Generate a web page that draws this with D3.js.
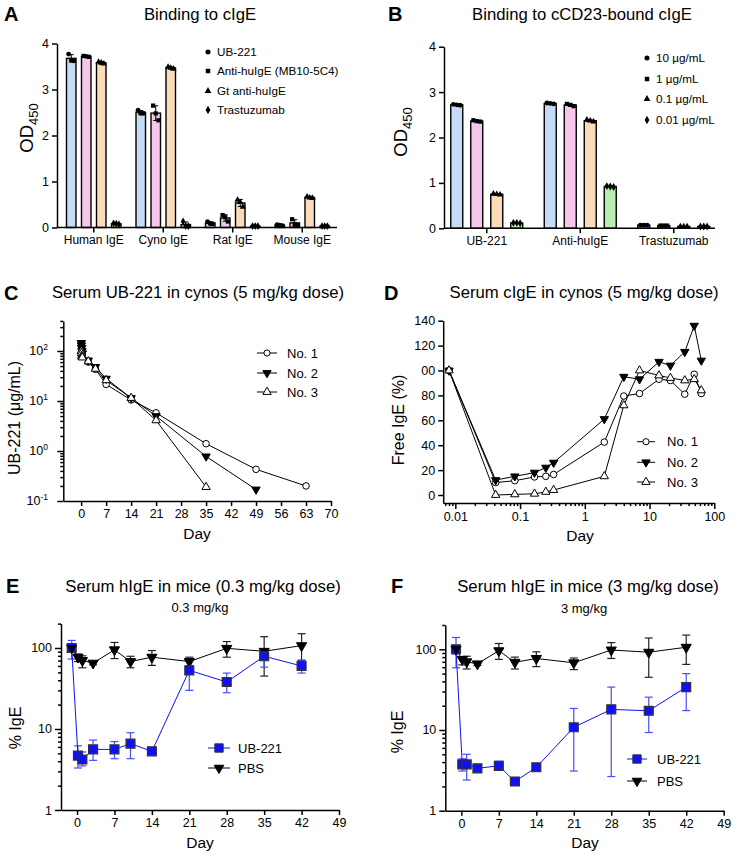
<!DOCTYPE html>
<html>
<head>
<meta charset="utf-8">
<script src="https://cdn.jsdelivr.net/npm/d3@7"></script>
<style>
  body { margin: 0; background: #fff; }
  svg { font-family: "Liberation Sans", Arial, sans-serif; }
</style>
</head>
<body>
<svg id="fig" width="745" height="856"></svg>
<script>
// ---------------- data ----------------
// A: binding to cIgE, three replicates per bar
const aGroups = ['Human IgE', 'Cyno IgE', 'Rat IgE', 'Mouse IgE']
const aSeries = ['UB-221', 'Anti-huIgE (MB10-5C4)', 'Gt anti-huIgE', 'Trastuzumab']
const aUb221 = [[3.77, 3.64, 3.62], [2.55, 2.48, 2.48], [0.13, 0.08, 0.08], [0.06, 0.05, 0.04]]
const aAntiHu = [[3.73, 3.72, 3.71], [2.65, 2.48, 2.33], [0.27, 0.22, 0.13], [0.18, 0.07, 0.05]]
const aGtAnti = [[3.60, 3.58, 3.56], [3.49, 3.47, 3.45], [0.60, 0.55, 0.45], [0.67, 0.65, 0.64]]
const aTrast = [[0.09, 0.08, 0.07], [0.13, 0.03, 0.03], [0.03, 0.03, 0.03], [0.03, 0.03, 0.03]]

// B: binding to cCD23-bound cIgE
const bGroups = ['UB-221', 'Anti-huIgE', 'Trastuzumab']
const bSeries = ['10 µg/mL', '1 µg/mL', '0.1 µg/mL', '0.01 µg/mL']
const b10 = [[2.73, 2.72, 2.71], [2.76, 2.75, 2.74], [0.07, 0.07, 0.07]]
const b1 = [[2.38, 2.36, 2.35], [2.74, 2.72, 2.69], [0.06, 0.06, 0.06]]
const b01 = [[0.76, 0.75, 0.74], [2.39, 2.37, 2.35], [0.04, 0.04, 0.04]]
const b001 = [[0.12, 0.12, 0.11], [0.93, 0.92, 0.91], [0.04, 0.04, 0.04]]

const barTicks = [0, 1, 2, 3, 4]

// C: serum UB-221 (µg/mL) in cynos
const cDays = [0.042, 0.083, 0.167, 0.25, 0.33, 2, 4, 7, 14, 21, 35, 49, 63]
const cNo1 = [125, 110, 100, 92, 85, 60, 43, 21.5, 10.5, 5.8, 1.4, 0.43, 0.2]
const cNo2 = [145, 130, 115, 100, 90, 65, 48, 28, 11.5, 5, 0.78, 0.17]
const cNo3 = [100, 90, 80, 76, 74, 62, 44, 26, 11.5, 4.1, 0.19]
const cXTicks = [0, 7, 14, 21, 28, 35, 42, 49, 56, 63, 70]
const cYMajor = [0.1, 1, 10, 100]
const cYExp = ['-1', '0', '1', '2']

// D: free cIgE (%) in cynos
const dDays = [0.008, 0.042, 0.083, 0.167, 0.25, 0.33, 2, 4, 7, 14, 21, 35, 49, 63]
const dNo1 = [100, 10, 11.5, 14.5, 15, 16.5, 42.5, 79.5, 81.5, 93, 92, 81, 97, 81.5]
const dNo2 = [100, 12, 15, 18, 22, 26, 61, 95, 93, 107, 104, 115, 136, 108]
const dNo3 = [100, 0, 0.5, 1, 2.5, 4, 15, 72, 100, 96, 94, 92, 93, 84]
const dXMajor = [0.01, 0.1, 1, 10, 100]
const dXLabels = ['0.01', '0.1', '1', '10', '100']
const dYTicks = [0, 20, 40, 60, 80, 100, 120, 140]
const dYLabels = ['0', '20', '40', '60', '80', '00', '120', '140']

// E / F: serum hIgE (% of baseline) in mice
const mDays = [-1, 0.17, 1, 3, 7, 10, 14, 21, 28, 35, 42]
const eUbMean = [100, 4.7, 4.2, 5.6, 5.6, 6.6, 5.3, 53, 38, 79, 60]
const eUbLo = [73, 3.3, 3.5, 4.1, 4.3, 4.3, 5.1, 30, 28, 58, 49]
const eUbHi = [124, 6.2, 5.2, 7.3, 7.0, 9.0, 5.5, 75, 49, 95, 71]
const ePbsMean = [100, 77, 70, 65, 95, 68, 77, 68, 99, 91, 107]
const ePbsLo = [92, 68, 57, 62, 74, 57, 61, 60, 77, 45, 70]
const ePbsHi = [110, 84, 80, 68, 117, 79, 93, 77, 120, 138, 150]
const fUbMean = [100, 3.75, 3.75, 3.35, 3.6, 2.3, 3.45, 10.8, 18, 17.3, 34]
const fUbLo = [59, 3.1, 2.4, 3.2, 3.2, 2.2, 3.2, 3.1, 2.65, 9.3, 17.4]
const fUbHi = [140, 4.4, 5.0, 3.5, 4.1, 2.4, 3.7, 18.5, 34, 25.5, 50]
const fPbsMean = [100, 75, 70, 66, 96, 69, 77, 68, 98, 92, 106]
const fPbsLo = [88, 64, 57, 63, 75, 57, 61, 56, 77, 45, 65]
const fPbsHi = [112, 80, 82, 69, 118, 80, 93, 78, 121, 138, 150]
const mXTicks = [0, 7, 14, 21, 28, 35, 42, 49]
const mYMajor = [1, 10, 100]

const barColors = ['#c6dbf6', '#f6c7ea', '#fcdbb8', '#b9ecb5']
const blue = '#1010f8'

// ---------------- helpers ----------------
const svg = d3.select('#fig')
const FONT = '"Liberation Sans", Arial, sans-serif'
const TITLE = 16.7

function styleAxis(g, fs) {
    g.selectAll('path, line').attr('stroke', '#000').attr('stroke-width', 1.5)
    g.selectAll('text').attr('font-size', fs || 12).attr('fill', '#000').attr('font-family', FONT)
}

function text(x, y, str, size, opts) {
    opts = opts || {}
    return svg.append('text')
        .attr('x', x).attr('y', y)
        .attr('font-size', size)
        .attr('text-anchor', opts.anchor || 'middle')
        .attr('font-weight', opts.bold ? 900 : null)
        .attr('fill', '#000')
        .text(str)
}

function rotLabel(x, y, str, size, sub) {
    const t = svg.append('text')
        .attr('transform', 'translate(' + x + ',' + y + ') rotate(-90)')
        .attr('text-anchor', 'middle')
        .attr('font-size', size)
        .text(str)
    if (sub) t.append('tspan').attr('font-size', size * 0.7).attr('dy', size * 0.28).text(sub)
}

const shapes = {
    circle: d3.symbolCircle, square: d3.symbolSquare,
    up: d3.symbolTriangle, down: d3.symbolTriangle, diamond: d3.symbolDiamond
}
function marker(g, x, y, shape, size, fill, stroke, sw) {
    g.append('path')
        .attr('d', d3.symbol().type(shapes[shape]).size(size)())
        .attr('transform', 'translate(' + x + ',' + y + ')' + (shape === 'down' ? ' rotate(180)' : ''))
        .attr('fill', fill)
        .attr('stroke', stroke || 'none')
        .attr('stroke-width', sw || 1)
}

// ---------------- bar panels (A, B) ----------------
function barPanel(o) {
    const g = svg.append('g')
    const x0 = d3.scaleBand().domain(o.groups).range(o.xRange)
    const x1 = d3.scaleBand().domain(o.series).range([-o.span / 2, o.span / 2]).paddingInner(o.pad)
    const y = d3.scaleLinear().domain([0, 4]).range(o.yRange)
    const shp = ['circle', 'square', 'up', 'diamond']

    o.data.forEach((serie, si) => {
        serie.forEach((vals, gi) => {
            const left = x0(o.groups[gi]) + x0.bandwidth() / 2 + x1(o.series[si])
            const bw = x1.bandwidth()
            const cx = left + bw / 2
            const m = d3.mean(vals), sd = d3.deviation(vals)
            g.append('rect')
                .attr('x', left).attr('y', y(m))
                .attr('width', bw).attr('height', y(0) - y(m))
                .attr('fill', barColors[si]).attr('stroke', '#000').attr('stroke-width', 1.4)
            // error bar
            g.append('line').attr('x1', cx).attr('x2', cx).attr('y1', y(m - sd)).attr('y2', y(m + sd))
                .attr('stroke', '#000').attr('stroke-width', 1)
            ;[m - sd, m + sd].forEach(v => g.append('line')
                .attr('x1', cx - 2.5).attr('x2', cx + 2.5).attr('y1', y(v)).attr('y2', y(v))
                .attr('stroke', '#000').attr('stroke-width', 1))
            // replicate points
            vals.forEach((v, k) => marker(g, cx + (k - 1) * bw * 0.28, y(v), shp[si], 18, '#000'))
        })
    })

    const ya = g.append('g').attr('transform', 'translate(' + o.yAxisX + ',0)')
        .call(d3.axisLeft(y).tickValues(barTicks).tickSize(5).tickSizeOuter(0).tickFormat(d3.format('d')))
    styleAxis(ya, 12.5)
    const xa = g.append('g').attr('transform', 'translate(0,' + o.yRange[0] + ')')
        .call(d3.axisBottom(x0).tickSize(5).tickSizeOuter(0))
    xa.select('.domain').remove()
    styleAxis(xa, 12)
    g.append('line').attr('x1', o.yAxisX).attr('x2', o.xEnd)
        .attr('y1', o.yRange[0]).attr('y2', o.yRange[0])
        .attr('stroke', '#000').attr('stroke-width', 1.5)

    // legend
    o.series.forEach((s, i) => {
        const ly = o.legY[i]
        marker(g, o.legX, ly, shp[i], 20, '#000')
        g.append('text').attr('x', o.legX + 9).attr('y', ly).attr('dy', '0.35em')
            .attr('font-size', 11.7).text(s)
    })
}

barPanel({
    groups: aGroups, series: aSeries, data: [aUb221, aAntiHu, aGtAnti, aTrast],
    xRange: [59, 337], span: 54.5, pad: 0.367, yRange: [227.5, 43.5],
    yAxisX: 57, xEnd: 337, legX: 208, legY: [52, 71, 91, 110]
})
barPanel({
    groups: bGroups, series: bSeries, data: [b10, b1, b01, b001],
    xRange: [440, 720.5], span: 72, pad: 0.4, yRange: [228.3, 46.7],
    yAxisX: 444, xEnd: 715, legX: 647, legY: [58, 79, 99, 120]
})

// ---------------- line panels helpers ----------------
function logMinorAxis(g, axisFn, scale, majors, size) {
    const minors = scale.ticks().filter(t => !majors.some(m => Math.abs(m - t) / m < 1e-6))
    const ga = g.append('g').call(axisFn(scale).tickValues(minors).tickSize(size).tickFormat(''))
    ga.select('.domain').remove()
    styleAxis(ga)
    return ga
}

function series(g, x, y, xs, ys, shape, fill, size, color) {
    const pts = ys.map((v, i) => [x(xs[i]), y(v)])
    g.append('path').attr('d', d3.line()(pts)).attr('fill', 'none')
        .attr('stroke', color || '#000').attr('stroke-width', 1)
    pts.forEach(p => marker(g, p[0], p[1], shape, size, fill, '#000', 1))
}

function lineLegend(g, x1, x2, xt, rows) {
    rows.forEach(r => {
        g.append('line').attr('x1', x1).attr('x2', x2).attr('y1', r.y).attr('y2', r.y)
            .attr('stroke', r.color || '#000').attr('stroke-width', 1)
        marker(g, (x1 + x2) / 2, r.y, r.shape, r.size, r.fill, r.stroke || '#000', 1)
        g.append('text').attr('x', xt).attr('y', r.y).attr('dy', '0.35em')
            .attr('font-size', 13).text(r.label)
    })
}

// ---------------- C ----------------
{
    const g = svg.append('g')
    const x = d3.scaleLinear().domain([-5, 70]).range([63.3, 331])
    const y = d3.scaleLog().domain([0.1, 400]).range([501, 320.9])
    series(g, x, y, cDays, cNo1, 'circle', '#fff', 34)
    series(g, x, y, cDays, cNo2, 'down', '#000', 30)
    series(g, x, y, cDays, cNo3, 'up', '#fff', 30)

    logMinorAxis(g.append('g').attr('transform', 'translate(63.3,0)'), d3.axisLeft, y, cYMajor, 3)
    const ya = g.append('g').attr('transform', 'translate(63.3,0)')
        .call(d3.axisLeft(y).tickValues(cYMajor).tickSize(6).tickSizeOuter(0).tickFormat(''))
    styleAxis(ya)
    cYMajor.forEach((v, i) => {
        const t = g.append('text').attr('x', 48).attr('y', y(v)).attr('dy', '0.35em')
            .attr('text-anchor', 'end').attr('font-size', 12.5).text('10')
        t.append('tspan').attr('font-size', 8.5).attr('dy', '-0.6em').text(cYExp[i])
    })
    const xa = g.append('g').attr('transform', 'translate(0,501)')
        .call(d3.axisBottom(x).tickValues(cXTicks).tickSize(5).tickSizeOuter(0))
    styleAxis(xa, 12.5)

    lineLegend(g, 257, 277, 287, [
        { y: 353, shape: 'circle', size: 30, fill: '#fff', label: 'No. 1' },
        { y: 373, shape: 'down', size: 30, fill: '#000', label: 'No. 2' },
        { y: 392, shape: 'up', size: 30, fill: '#fff', label: 'No. 3' }
    ])
}

// ---------------- D ----------------
{
    const g = svg.append('g')
    const x = d3.scaleLog().domain([0.0065, 100]).range([443.2, 714.3])
    const y = d3.scaleLinear().domain([-6.5, 140]).range([503.1, 320.7])
    series(g, x, y, dDays, dNo1, 'circle', '#fff', 34)
    series(g, x, y, dDays, dNo2, 'down', '#000', 30)
    series(g, x, y, dDays, dNo3, 'up', '#fff', 30)

    const ya = g.append('g').attr('transform', 'translate(443.2,0)')
        .call(d3.axisLeft(y).tickValues(dYTicks).tickSize(5).tickSizeOuter(0)
            .tickFormat((d, i) => dYLabels[i]))
    styleAxis(ya, 12.5)
    logMinorAxis(g.append('g').attr('transform', 'translate(0,503.1)'), d3.axisBottom, x, dXMajor, 3)
    const xa = g.append('g').attr('transform', 'translate(0,503.1)')
        .call(d3.axisBottom(x).tickValues(dXMajor).tickSize(6).tickSizeOuter(0)
            .tickFormat((d, i) => dXLabels[i]))
    styleAxis(xa, 12.5)

    lineLegend(g, 637, 655, 667, [
        { y: 441.7, shape: 'circle', size: 30, fill: '#fff', label: 'No. 1' },
        { y: 462.3, shape: 'down', size: 30, fill: '#000', label: 'No. 2' },
        { y: 482, shape: 'up', size: 30, fill: '#fff', label: 'No. 3' }
    ])
}

// ---------------- E / F ----------------
function micePanel(o) {
    const g = svg.append('g')
    const x = d3.scaleLinear().domain([-3, 49]).range(o.xRange)
    const y = d3.scaleLog().domain([1, 200]).range(o.yRange)

    const errs = (xs, lo, hi, color) => xs.forEach((d, i) => {
        const cx = x(d)
        g.append('line').attr('x1', cx).attr('x2', cx).attr('y1', y(lo[i])).attr('y2', y(hi[i]))
            .attr('stroke', color).attr('stroke-width', 1.2)
        ;[lo[i], hi[i]].forEach(v => g.append('line')
            .attr('x1', cx - 4).attr('x2', cx + 4).attr('y1', y(v)).attr('y2', y(v))
            .attr('stroke', color).attr('stroke-width', 1.2))
    })
    errs(mDays, o.pbsLo, o.pbsHi, '#222')
    errs(mDays, o.ubLo, o.ubHi, '#4a4aff')
    series(g, x, y, mDays, o.pbsMean, 'down', '#000', 45, '#000')
    const pts = o.ubMean.map((v, i) => [x(mDays[i]), y(v)])
    g.append('path').attr('d', d3.line()(pts)).attr('fill', 'none').attr('stroke', blue).attr('stroke-width', 1)
    pts.forEach(p => marker(g, p[0], p[1], 'square', 80, blue, '#333', 1.2))
    // PBS marker on top at baseline
    marker(g, x(mDays[0]), y(o.pbsMean[0]), 'down', 45, '#000')

    logMinorAxis(g.append('g').attr('transform', 'translate(' + o.xRange[0] + ',0)'), d3.axisLeft, y, mYMajor, 3)
    const ya = g.append('g').attr('transform', 'translate(' + o.xRange[0] + ',0)')
        .call(d3.axisLeft(y).tickValues(mYMajor).tickSize(6).tickSizeOuter(0).tickFormat(d3.format('d')))
    styleAxis(ya, 12.5)
    const xa = g.append('g').attr('transform', 'translate(0,' + o.yRange[0] + ')')
        .call(d3.axisBottom(x).tickValues(mXTicks).tickSize(5).tickSizeOuter(0))
    styleAxis(xa, 12.5)

    lineLegend(g, o.leg[0], o.leg[1], o.leg[2], [
        { y: o.legY[0], shape: 'square', size: 70, fill: blue, stroke: '#333', color: blue, label: 'UB-221' },
        { y: o.legY[1], shape: 'down', size: 40, fill: '#000', label: 'PBS' }
    ])
}

micePanel({
    xRange: [61, 339], yRange: [810, 623.6],
    ubMean: eUbMean, ubLo: eUbLo, ubHi: eUbHi,
    pbsMean: ePbsMean, pbsLo: ePbsLo, pbsHi: ePbsHi,
    leg: [208, 230, 238], legY: [748, 768]
})
micePanel({
    xRange: [445.3, 723.7], yRange: [810.7, 625],
    ubMean: fUbMean, ubLo: fUbLo, ubHi: fUbHi,
    pbsMean: fPbsMean, pbsLo: fPbsLo, pbsHi: fPbsHi,
    leg: [627, 647, 657], legY: [759, 781]
})

// ---------------- titles, letters, axis labels ----------------
text(4, 21, 'A', 20, { anchor: 'start', bold: true })
text(388, 21, 'B', 20, { anchor: 'start', bold: true })
text(4, 300, 'C', 20, { anchor: 'start', bold: true })
text(384, 300, 'D', 20, { anchor: 'start', bold: true })
text(6, 593, 'E', 20, { anchor: 'start', bold: true })
text(391, 593, 'F', 20, { anchor: 'start', bold: true })

text(200, 20, 'Binding to cIgE', TITLE)
text(582, 20, 'Binding to cCD23-bound cIgE', TITLE)
text(198, 298, 'Serum UB-221 in cynos (5 mg/kg dose)', TITLE)
text(584, 298, 'Serum cIgE in cynos (5 mg/kg dose)', TITLE)
text(203, 592, 'Serum hIgE in mice (0.3 mg/kg dose)', TITLE)
text(200, 612, '0.3 mg/kg', 13)
text(588, 592, 'Serum hIgE in mice (3 mg/kg dose)', TITLE)
text(584, 613, '3 mg/kg', 13)

rotLabel(33, 128, 'OD', 18.5, '450')
rotLabel(407, 132, 'OD', 18.5, '450')
rotLabel(20, 418, 'UB-221 (μg/mL)', 16)
rotLabel(404, 420, 'Free IgE (%)', 16)
rotLabel(21, 728, '% IgE', 16)
rotLabel(403, 732, '% IgE', 16)

text(197, 539, 'Day', 15.5)
text(580, 541, 'Day', 15.5)
text(200, 848, 'Day', 15.5)
text(585, 848, 'Day', 15.5)
</script>
</body>
</html>
